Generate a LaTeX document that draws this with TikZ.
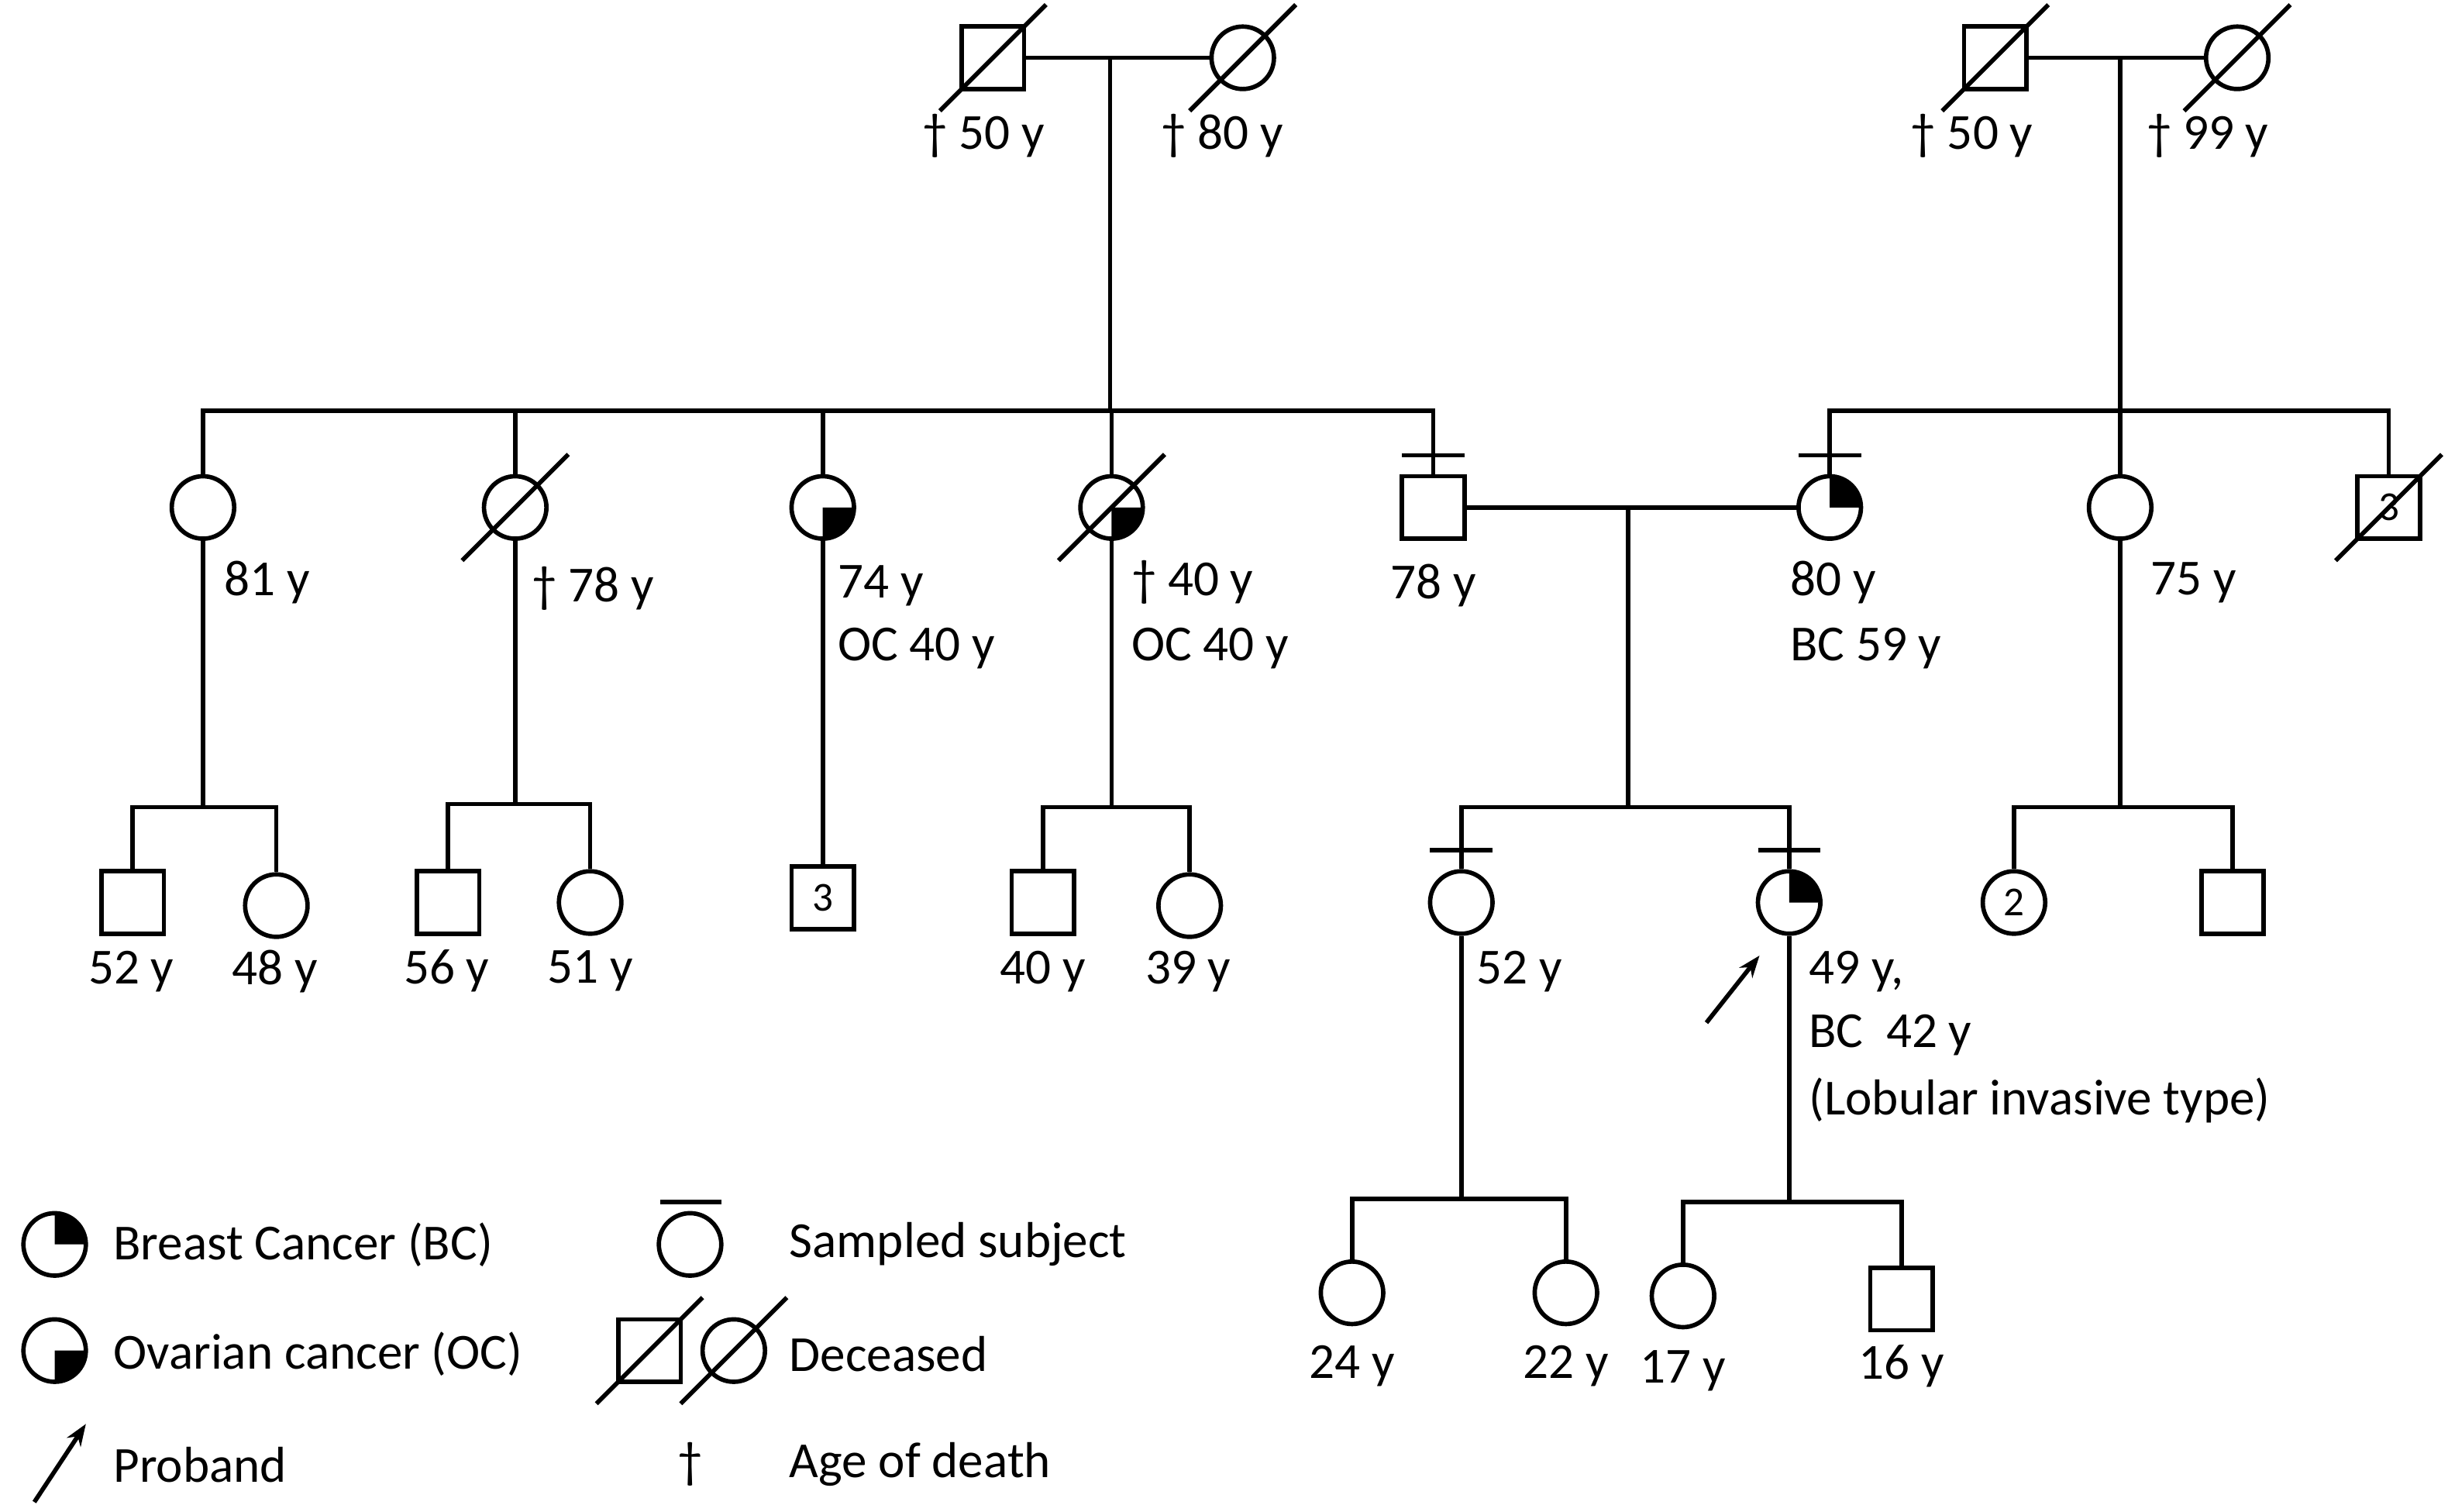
\documentclass[tikz,border=0pt]{standalone}
\usepackage{fontspec}
\setmainfont{Carlito}
\usetikzlibrary{arrows.meta}
\tikzset{
  ind/.style={draw, line width=0.8pt, inner sep=0pt, font=\fontsize{7.5}{8}\selectfont},
  ma/.style={ind, rectangle, minimum size=4mm},
  fe/.style={ind, circle, minimum size=4mm},
  lbl/.style={font=\fontsize{9.2}{10}\selectfont, inner sep=0pt},
  ln/.style={line width=0.8pt}
}
\newcommand{\dead}[1]{\draw[ln] (#1.center) +(-3.4mm,-3.4mm) -- +(3.4mm,3.4mm);}
\newcommand{\bc}[1]{\fill (#1.center) -- ++(2mm,0) arc[start angle=0,end angle=90,radius=2mm] -- cycle;}
\newcommand{\oc}[1]{\fill (#1.center) -- ++(2mm,0) arc[start angle=0,end angle=-90,radius=2mm] -- cycle;}
\newcommand{\smp}[1]{\draw[ln] (#1.north) +(-2mm,1.2mm) -- +(2mm,1.2mm);}
\begin{document}
\begin{tikzpicture}[x=0.1mm, y=-0.1mm]
\useasboundingbox (0,0) rectangle (1568,968);
% generation I
\node[ma] (g1a) at (636,37) {};
\node[fe] (g1b) at (796,37) {};
\node[ma] (g1c) at (1278,37) {};
\node[fe] (g1d) at (1433,37) {};
\dead{g1a} \dead{g1b} \dead{g1c} \dead{g1d}
\coordinate (m1) at (711,37);
\coordinate (m2) at (1358,37);
\draw[ln] (g1a) -- (g1b);
\draw[ln] (g1c) -- (g1d);
\node[lbl] at (630,87) {† 50 y};
\node[lbl] at (783,87) {† 80 y};
\node[lbl] at (1263,87) {† 50 y};
\node[lbl] at (1414,87) {† 99 y};
% generation II
\node[fe] (a1) at (130,325) {};
\node[fe] (a2) at (330,325) {};
\node[fe] (a3) at (527,325) {};
\node[fe] (a4) at (712,325) {};
\node[ma] (a5) at (918,325) {};
\node[fe] (b1) at (1172,325) {};
\node[fe] (b2) at (1358,325) {};
\node[ma] (b3) at (1530,325) {3};
\dead{a2} \dead{a4} \dead{b3}
\oc{a3} \oc{a4} \bc{b1}
\smp{a5} \smp{b1}
\coordinate (s1) at (711,263);
\coordinate (s2) at (1358,263);
\draw[ln] (m1) -- (s1);
\draw[ln] (m2) -- (s2);
\draw[ln] (a1.north) -- (130,263) -| (a5.north);
\draw[ln] (a2.north) -- (330,263);
\draw[ln] (a3.north) -- (527,263);
\draw[ln] (a4.north) -- (712,263);
\draw[ln] (b1.north) -- (1172,263) -| (b3.north);
\draw[ln] (b2.north) -- (s2);
\draw[ln] (a5) -- (b1);
\node[lbl, anchor=west] at (143,373) {81 y};
\node[lbl, anchor=west] at (340,377) {† 78 y};
\node[lbl, anchor=west] at (536,375) {74 y};
\node[lbl, anchor=west] at (536,415) {OC 40 y};
\node[lbl, anchor=west] at (724,373) {† 40 y};
\node[lbl, anchor=west] at (724,415) {OC 40 y};
\node[lbl] at (918,375) {78 y};
\node[lbl, anchor=west] at (1146,373) {80 y};
\node[lbl, anchor=west] at (1146,415) {BC 59 y};
\node[lbl, anchor=west] at (1377,373) {75 y};
% generation III
\node[ma] (c1) at (85,578) {};
\node[fe] (c2) at (177,580) {};
\node[ma] (c3) at (287,578) {};
\node[fe] (c4) at (378,578) {};
\node[ma] (c5) at (527,575) {3};
\node[ma] (c6) at (668,578) {};
\node[fe] (c7) at (762,580) {};
\node[fe] (d1) at (936,578) {};
\node[fe] (d2) at (1146,578) {};
\node[fe] (e1) at (1290,578) {2};
\node[ma] (e2) at (1430,578) {};
\bc{d2} \smp{d1} \smp{d2}
\draw[ln] (a1) -- (130,517);
\draw[ln] (c1.north) -- (85,517) -| (c2.north);
\draw[ln] (a2) -- (330,515);
\draw[ln] (c3.north) -- (287,515) -| (c4.north);
\draw[ln] (a3) -- (c5);
\draw[ln] (a4) -- (712,517);
\draw[ln] (c6.north) -- (668,517) -| (c7.north);
\draw[ln] (1043,325) -- (1043,517);
\draw[ln] (d1.north) -- (936,517) -| (d2.north);
\draw[ln] (b2) -- (1358,517);
\draw[ln] (e1.north) -- (1290,517) -| (e2.north);
\coordinate (pr) at (1093,655);
\draw[ln, -{Stealth[length=4pt]}] (pr) -- (1127,612);
\node[lbl] at (84,622) {52 y};
\node[lbl] at (176,622) {48 y};
\node[lbl] at (286,622) {56 y};
\node[lbl] at (378,622) {51 y};
\node[lbl] at (668,622) {40 y};
\node[lbl] at (761,622) {39 y};
\node[lbl, anchor=west] at (945,622) {52 y};
\node[lbl, anchor=west] at (1158,622) {49 y,};
\node[lbl, anchor=west] at (1158,663) {BC\ \ 42 y};
\node[lbl, anchor=west] at (1158,705) {(Lobular invasive type)};
% generation IV
\node[fe] (f1) at (866,828) {};
\node[fe] (f2) at (1003,828) {};
\node[fe] (f3) at (1078,830) {};
\node[ma] (f4) at (1218,832) {};
\draw[ln] (d1) -- (936,768);
\draw[ln] (f1.north) -- (866,768) -| (f2.north);
\draw[ln] (d2) -- (1146,770);
\draw[ln] (f3.north) -- (1078,770) -| (f4.north);
\node[lbl] at (866,875) {24 y};
\node[lbl] at (1003,875) {22 y};
\node[lbl] at (1078,878) {17 y};
\node[lbl] at (1218,875) {16 y};
% legend
\node[fe] (k1) at (35,797) {};
\node[fe] (k2) at (35,865) {};
\node[fe] (k3) at (442,797) {};
\node[ma] (k4) at (416,865) {};
\node[fe] (k5) at (470,865) {};
\bc{k1} \oc{k2} \dead{k4} \dead{k5}
\draw[ln] (423,770) -- (462,770);
\coordinate (kp) at (22,962);
\draw[ln, -{Stealth[length=4pt]}] (kp) -- (55,912);
\node[lbl] at (442,938) {†};
\node[lbl, anchor=west] at (72,797) {Breast Cancer (BC)};
\node[lbl, anchor=west] at (72,867) {Ovarian cancer (OC)};
\node[lbl, anchor=west] at (72,938) {Proband};
\node[lbl, anchor=west] at (505,797) {Sampled subject};
\node[lbl, anchor=west] at (505,867) {Deceased};
\node[lbl, anchor=west] at (505,938) {Age of death};
\end{tikzpicture}
\end{document}
